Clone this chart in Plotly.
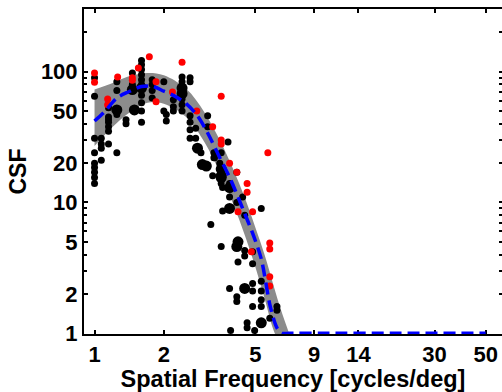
import plotly.graph_objects as go
import math

# ---- data ----
fit_x = [1.0, 1.1, 1.25, 1.4, 1.6, 1.8, 2.0, 2.2, 2.5, 2.8, 3.1, 3.5, 3.9, 4.4, 4.9, 5.3, 5.8, 6.2, 6.5, 7.0, 10, 20, 50]
fit_y = [42, 49, 63, 70, 77, 77, 71, 66, 57, 46, 34, 22, 15, 9, 5.6, 3.7, 1.6, 1.1, 1.0, 1.0, 1.0, 1.0, 1.0]

band_x = [1.0, 1.2, 1.4, 1.7, 2.0, 2.5, 3.0, 3.5, 4.0, 4.5, 5.0, 5.5, 6.0, 6.5, 7.0]
band_hi = [73, 82, 92, 98, 94, 74, 49, 30, 18, 10.8, 6.4, 3.9, 2.3, 1.45, 1.0]
band_lo = [27, 38, 48, 58, 57, 45, 29, 17, 9.8, 5.6, 3.2, 1.8, 1.05, 0.8, 0.8]

black_x = [1.0, 1.0, 1.0, 1.0, 1.0, 1.0, 1.0, 1.0, 1.0,
           1.07, 1.07, 1.07, 1.07,
           1.15, 1.15, 1.15, 1.15, 1.15, 1.15, 1.15,
           1.25, 1.25, 1.25, 1.25, 1.25,
           1.37, 1.37,
           1.46, 1.46, 1.46, 1.49, 1.6,
           1.6, 1.6, 1.6, 1.6, 1.6, 1.6, 1.6, 1.6, 1.6, 1.6,
           1.78, 1.78, 1.78, 1.78,
           2.0, 2.0, 2.05, 2.05,
           2.2, 2.2, 2.2,
           2.4, 2.4, 2.4, 2.4, 2.4, 2.4, 2.4,
           2.6, 2.6, 2.6, 2.6, 2.6, 2.6,
           2.75, 2.75, 2.8, 2.9,
           3.1, 3.1, 3.3, 3.3, 3.55, 3.8,
           2.94, 3.06, 3.32, 3.5, 3.55, 3.55, 3.55, 3.26, 3.6, 3.86, 3.86,
           4.15, 4.4, 4.15, 3.86, 3.6, 5.3, 4.49, 3.55, 3.86, 3.2,
           3.55, 4.2, 4.15, 4.49, 4.49, 4.2, 4.86, 4.86,
           3.86, 4.49, 4.86, 4.86, 5.3, 5.3, 5.3, 4.15, 4.15,
           4.86, 5.3, 6.2, 6.2, 5.77, 4.6, 4.6, 5.3, 4.96, 3.9]
black_y = [90, 65, 31, 24, 20, 18.5, 17, 15.5, 14,
           31, 28, 26, 21,
           53, 45, 43, 41, 38, 35, 28,
           84, 72, 51, 47, 24,
           43, 40,
           98, 80, 73, 51, 41,
           122, 113, 104, 95, 87, 80, 75, 66, 58, 50,
           87, 80, 72, 63,
           84, 50, 47, 42,
           61, 54, 50,
           91, 84, 75, 68, 62, 56, 50,
           90, 84, 46, 41, 36, 31,
           37, 31, 26, 24,
           46, 38, 24, 22, 24, 29,
           19.5, 19, 22, 20, 18, 16, 14, 16, 13, 14, 11,
           17, 11, 10, 9, 8.6, 9, 8, 15.5, 13, 6.8,
           4.6, 5, 4.6, 4.3, 3.9, 3.5, 4.2, 3.4,
           2.2, 2.2, 2.4, 2.1, 2.5, 2.1, 1.8, 1.9, 1.75,
           1.6, 1.6, 1.6, 1.5, 1.3, 1.2, 1.1, 1.2, 1.05, 1.05]
black_big = [0, 0, 0, 0, 0, 0, 0, 0, 0,
             0, 0, 0, 0,
             0, 0, 0, 0, 0, 0, 0,
             0, 0, 1, 0, 0,
             0, 0,
             0, 0, 1, 1, 0,
             0, 0, 0, 0, 0, 0, 1, 0, 0, 0,
             0, 0, 0, 0,
             0, 0, 0, 0,
             0, 0, 0,
             0, 0, 1, 1, 0, 0, 0,
             0, 0, 0, 0, 0, 0,
             0, 0, 1, 0,
             0, 0, 0, 0, 0, 0,
             1, 1, 0, 0, 1, 1, 0, 0, 0, 0, 0,
             0, 0, 0, 1, 0, 0, 0, 1, 1, 0,
             0, 1, 1, 0, 0, 0, 0, 0,
             0, 1, 0, 0, 0, 0, 0, 0, 0,
             0, 0, 0, 0, 0, 0, 0, 1, 0, 0]

red_x = [1.0, 1.0, 1.14, 1.14, 1.26, 1.46, 1.46, 1.55, 1.73, 1.85, 1.85,
         2.18, 2.4, 2.78, 3.55, 3.26, 3.55, 3.55, 3.86,
         4.15, 4.6, 4.6, 4.2, 4.86, 5.66, 4.8, 5.77, 5.77, 5.77, 5.77]
red_y = [98, 83, 62, 56, 91, 90, 86, 107, 130, 84, 59,
         70, 118, 50, 65, 38, 30, 28, 20,
         17, 14, 12, 8.5, 8.5, 24, 4.2, 4.9, 4.4, 2.7, 2.3]

x_tickvals = [1, 2, 5, 9, 14, 30, 50]
y_tickvals = [1, 2, 5, 10, 20, 50, 100]
y_minor = [3, 4, 6, 7, 8, 9, 30, 40, 60, 70, 80, 90, 200, 300]
y_all = [1, 2, 3, 4, 5, 6, 7, 8, 9, 10, 20, 30, 40, 50, 60, 70, 80, 90, 100, 200, 300]

FONT = "Liberation Sans, Arial, Helvetica, sans-serif"

fig = go.Figure()

# gray confidence band
fig.add_trace(go.Scatter(x=band_x, y=band_lo, mode="lines", line=dict(width=0, color="#888888", shape="spline"),
                         showlegend=False, hoverinfo="skip"))
fig.add_trace(go.Scatter(x=band_x, y=band_hi, mode="lines", line=dict(width=0, color="#888888", shape="spline"),
                         fill="tonexty", fillcolor="#8c8c8c", showlegend=False, hoverinfo="skip"))

sizes = [11 if b else 7 for b in black_big]
fig.add_trace(go.Scatter(x=black_x, y=black_y, mode="markers",
                         marker=dict(color="black", size=sizes, opacity=1, line=dict(width=0)),
                         showlegend=False, cliponaxis=False))
fig.add_trace(go.Scatter(x=red_x, y=red_y, mode="markers",
                         marker=dict(color="#ff0000", size=7, opacity=1, line=dict(width=0)),
                         showlegend=False, cliponaxis=False))
fig.add_trace(go.Scatter(x=fit_x, y=fit_y, mode="lines",
                         line=dict(color="#0000ff", width=3.5, dash="12px,6px", shape="spline", smoothing=0.8),
                         showlegend=False))
# helper trace for the right-hand mirrored tick axis
fig.add_trace(go.Scatter(x=[1], y=[1], yaxis="y2", mode="markers", marker=dict(opacity=0),
                         showlegend=False, hoverinfo="skip"))

yr = [-0.006, 2.48]
fig.update_layout(
    width=502, height=392,
    margin=dict(l=84, r=0, t=9, b=58),
    paper_bgcolor="white", plot_bgcolor="white",
    font=dict(family=FONT, color="black", size=22, weight=700),
    xaxis=dict(type="log", range=[math.log10(0.9), 1.77],
               tickvals=x_tickvals, ticktext=[str(v) for v in x_tickvals],
               ticks="inside", ticklen=4, tickwidth=1.5, tickcolor="black",
               showline=True, linewidth=2, linecolor="black", mirror="ticks",
               showgrid=False, zeroline=False, layer="below traces",
               tickfont=dict(family=FONT, size=22, weight=700),
               title=dict(text="Spatial Frequency [cycles/deg]", standoff=2,
                          font=dict(family=FONT, size=23.5, weight=700))),
    yaxis=dict(type="log", range=yr,
               tickvals=y_tickvals, ticktext=[str(v) for v in y_tickvals],
               ticks="inside", ticklen=4, tickwidth=1.5, tickcolor="black",
               minor=dict(tickvals=y_minor, ticks="inside", ticklen=3, tickwidth=1.5, tickcolor="black"),
               showline=True, linewidth=2, linecolor="black", mirror=False,
               showgrid=False, zeroline=False,
               tickfont=dict(family=FONT, size=22, weight=700),
               title=dict(text="CSF", standoff=8, font=dict(family=FONT, size=23, weight=700))),
    yaxis2=dict(type="log", range=yr, overlaying="y", side="right",
                tickvals=y_all, ticks="inside", ticklen=3, tickwidth=1.5, tickcolor="black",
                showticklabels=False, showline=False, showgrid=False, zeroline=False),
)

fig.write_html("out.html")
